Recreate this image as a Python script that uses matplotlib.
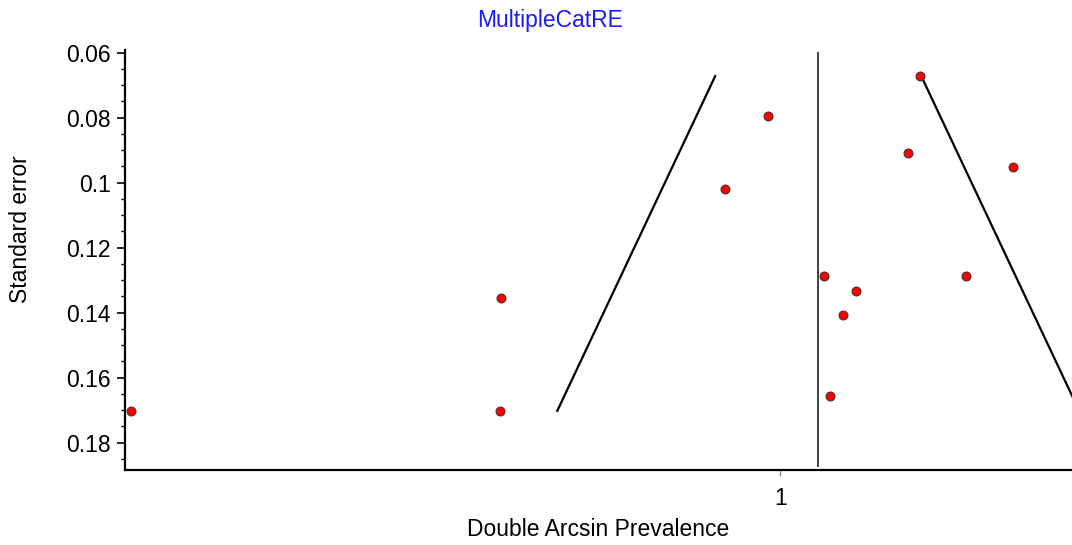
import numpy as np
import matplotlib.pyplot as plt
from matplotlib.ticker import MultipleLocator, FuncFormatter

plt.rcParams['font.family'] = ['Liberation Sans', 'DejaVu Sans']

# study estimates (double arcsine scale) and their standard errors
effect = [0.170, 0.643, 0.642, 0.930, 0.985, 1.056, 1.097,
          1.080, 1.063, 1.163, 1.179, 1.237, 1.297]
std_err = [0.1702, 0.1355, 0.1702, 0.1019, 0.0796, 0.1286, 0.1332,
           0.1408, 0.1655, 0.0910, 0.0672, 0.1286, 0.0952]

pooled = 1.0486  # random effects summary
z = 1.96

fig = plt.figure(figsize=(10.72, 5.45), dpi=100)
ax = fig.add_axes([125/1072, 1 - 470/545, 1 - 125/1072, 420/545])

# funnel limits around the pooled estimate
se_lo, se_hi = min(std_err), max(std_err)
ax.plot([pooled - z*se_lo, pooled - z*se_hi], [se_lo, se_hi], color='black', lw=1.6)
ax.plot([pooled + z*se_lo, pooled + z*se_hi], [se_lo, se_hi], color='black', lw=1.6)
ax.plot([pooled, pooled], [0.06, 0.1872], color='#333333', lw=1.3)

ax.scatter(effect, std_err, s=42, color='red', edgecolors='#333333',
           linewidths=0.7, zorder=3)

ax.set_xlim(0.1624, 1.373)
ax.set_ylim(0.1884, 0.05917)

ax.set_xticks([1])
ax.set_xticklabels(['1'])
ax.yaxis.set_major_locator(MultipleLocator(0.02))
ax.yaxis.set_minor_locator(MultipleLocator(0.005))
ax.yaxis.set_major_formatter(FuncFormatter(lambda v, p: f'{v:g}'))

ax.tick_params(axis='y', which='major', length=6, width=1.2, labelsize=16.5, pad=4)
ax.tick_params(axis='y', which='minor', length=3, width=1.0)
ax.tick_params(axis='x', length=4, width=1.0, color='#888888', labelsize=16.5, pad=8)

for side in ['top', 'right']:
    ax.spines[side].set_visible(False)
for side in ['left', 'bottom']:
    ax.spines[side].set_linewidth(1.6)

fig.text(550/1072, 1 - 21/545, 'MultipleCatRE', color='#1a1aff', fontsize=16.5,
         ha='center', va='center')
fig.text(598/1072, 1 - 530/545, 'Double Arcsin Prevalence', fontsize=16.5,
         ha='center', va='center')
fig.text(21/1072, 1 - 229/545, 'Standard error', fontsize=16.5, rotation=90,
         ha='center', va='center')

plt.savefig('out.png', dpi=100)
